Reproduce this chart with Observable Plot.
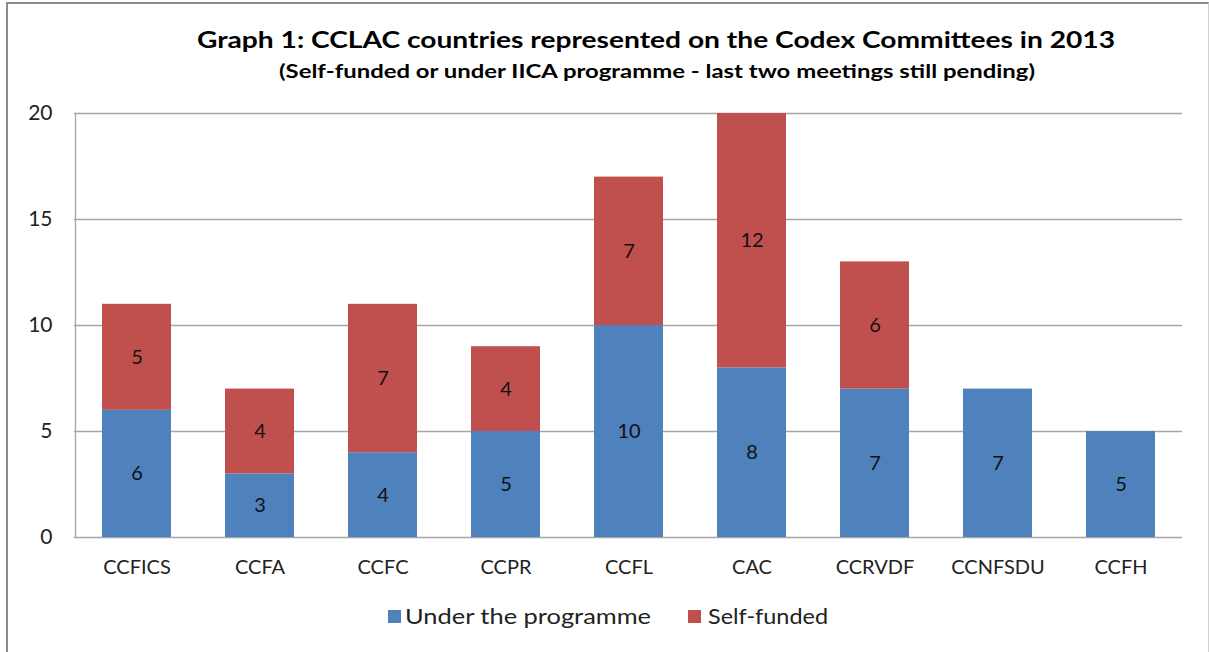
<!DOCTYPE html>
<html>
<head>
<meta charset="utf-8">
<script src="https://cdn.jsdelivr.net/npm/d3@7"></script>
<script src="https://cdn.jsdelivr.net/npm/@observablehq/plot@0.6"></script>
<style>
  html, body { margin: 0; padding: 0; background: #fff; }
  #wrap { position: relative; width: 1209px; height: 652px; overflow: hidden; font-family: Lato, "Open Sans", sans-serif; }
  #frame { position: absolute; left: 6px; top: 2px; width: 1200px; height: 660px; border-left: 2px solid #8c8c8c; border-top: 2px solid #8c8c8c; border-right: 1px solid #d0d0d0; }
  #chart { position: absolute; left: 0; top: 0; }
  #titles, #legend { position: absolute; left: 0; }
  #titles { top: 0; }
  #legend { top: 595px; }
</style>
</head>
<body>
<div id="wrap">
  <div id="frame"></div>
  <div id="chart"></div>
  <svg id="titles" width="1209" height="100">
    <text x="656" y="48" text-anchor="middle" font-family="Lato, sans-serif" font-weight="bold" font-size="23" fill="#000" textLength="918" lengthAdjust="spacingAndGlyphs">Graph 1: CCLAC countries represented on the Codex Committees in 2013</text>
    <text x="657" y="78" text-anchor="middle" font-family="Lato, sans-serif" font-weight="bold" font-size="18" fill="#000" textLength="756" lengthAdjust="spacingAndGlyphs">(Self-funded or under IICA programme - last two meetings still pending)</text>
  </svg>
  <svg id="legend" width="1209" height="45"></svg>
</div>
<script>
const categories = ["CCFICS", "CCFA", "CCFC", "CCPR", "CCFL", "CAC", "CCRVDF", "CCNFSDU", "CCFH"];
const underProgramme = [6, 3, 4, 5, 10, 8, 7, 7, 5];
const selfFunded = [5, 4, 7, 4, 7, 12, 6, 0, 0];
const seriesNames = ["Under the programme", "Self-funded"];
const seriesColors = ["#4F81BD", "#C0504D"];
const yTicks = [0, 5, 10, 15, 20];

const data = [];
categories.forEach((c, i) => {
  data.push({cat: c, series: seriesNames[0], value: underProgramme[i]});
  data.push({cat: c, series: seriesNames[1], value: selfFunded[i]});
});

// legend (HTML/SVG below the plot)
const leg = d3.select("#legend");
const legItems = [{sx: 388, tx: 405, tl: 246}, {sx: 688, tx: 708, tl: 120}];
seriesNames.forEach((s, i) => {
  leg.append("rect").attr("x", legItems[i].sx).attr("y", 15).attr("width", 13).attr("height", 13).attr("fill", seriesColors[i]);
  leg.append("text").attr("x", legItems[i].tx).attr("y", 29)
    .attr("font-family", "Lato, sans-serif").attr("font-size", 21).attr("fill", "#222")
    .attr("textLength", legItems[i].tl).attr("lengthAdjust", "spacingAndGlyphs").text(s);
});

const chart = Plot.plot({
  width: 1209,
  height: 652,
  marginLeft: 74,
  marginRight: 27,
  marginTop: 113,
  marginBottom: 115,
  style: {background: "transparent", fontFamily: "Lato, 'Open Sans', sans-serif", color: "#222"},
  x: {domain: categories, paddingInner: 0.44, paddingOuter: 0.22, label: null, tickSize: 0, tickPadding: 22},
  y: {domain: [0, 20], ticks: yTicks, label: null, tickSize: 0, tickPadding: 22},
  color: {domain: seriesNames, range: seriesColors},
  marks: [
    Plot.gridY(yTicks, {stroke: "#a6a6a6", strokeOpacity: 1, strokeWidth: 1.3}),
    Plot.ruleX([0], {x: () => categories[0], dx: -61.5, stroke: "#a6a6a6", strokeWidth: 1.3, y1: 0, y2: 20}),
    Plot.barY(data, {x: "cat", y: "value", fill: "series", order: seriesNames}),
    Plot.textY(data.filter(d => d.value > 0), Plot.stackY({x: "cat", y: "value", z: "series", order: seriesNames, text: d => String(d.value), fontSize: 20, fill: "#111"})),
    Plot.axisY({ticks: yTicks, tickSize: 0, tickPadding: 22, fontSize: 21, label: null, fill: "#222"}),
    Plot.axisX({tickSize: 0, tickPadding: 22, fontSize: 20, label: null, fill: "#222"})
  ]
});
document.getElementById("chart").appendChild(chart);
</script>
</body>
</html>
